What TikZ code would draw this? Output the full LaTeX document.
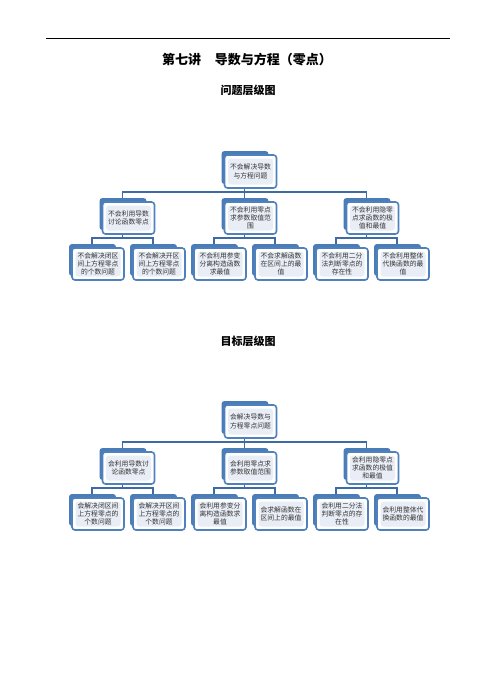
\documentclass[tikz,border=0pt]{standalone}
\usepackage{fontspec}
\setmainfont{Liberation Serif}
\newfontfamily\cjk{Noto Sans CJK SC}
\usetikzlibrary{backgrounds}
\definecolor{backc}{HTML}{4A7CB8}
\definecolor{edgec}{HTML}{4F81BD}
\definecolor{innerc}{HTML}{E9EEF6}
\definecolor{connc}{HTML}{3E6BA5}
\tikzset{
 cardfront/.style={draw=edgec, line width=1.6pt, fill=white, rounded corners=3pt,
   minimum width=52pt, inner sep=0pt, align=center,
   font=\cjk\fontsize{6.8pt}{8.3pt}\selectfont, text=black!80,
   path picture={\fill[innerc] ([shift={(3.5pt,-3.5pt)}]path picture bounding box.north west) rectangle ([shift={(-3.5pt,3.5pt)}]path picture bounding box.south east);}},
 cardback/.style={fill=backc, rounded corners=3pt},
 conn/.style={draw=connc, line width=1.8pt},
 heading/.style={font=\cjk\bfseries\fontsize{13pt}{15pt}\selectfont},
 subheading/.style={font=\cjk\bfseries\fontsize{11pt}{13pt}\selectfont},
}
\newcommand{\mycard}[5]{%
 \fill[cardback] (#2-23,#3-4) rectangle (#2+24,#3+#4-4);
 \node[cardfront, minimum height=#4pt] (#1) at (#2+6,#3+#4/2) {#5};
}
\newcommand{\mylink}[3]{%
 \coordinate (tmpA) at ([xshift=-6pt]#1.south);
 \coordinate (tmpB) at ([xshift=-6pt]#2.north);
 \draw[conn] (tmpA) -- (tmpA |- #3) -| (tmpB);
}
\begin{document}
\begin{tikzpicture}[x=1pt,y=-1pt]
\useasboundingbox (0,0) rectangle (496,673);
\coordinate (ruleL) at (46,38);
\coordinate (ruleR) at (450,38);
\draw[line width=0.9pt] (ruleL) -- (ruleR);
\node[heading] (title) at (247,60) {第七讲\hspace{14pt}导数与方程（零点）};
\node[subheading] (sub1) at (248,90) {问题层级图};
\node[subheading] (sub2) at (248,341) {目标层级图};

% ---------- diagram 1 ----------
\coordinate (a1) at (0,192);
\coordinate (a2) at (0,238);
\mycard{ar}{244.5}{155}{33}{不会解决导数\\与方程问题}
\mycard{aA}{122.5}{202}{32}{不会利用导数\\讨论函数零点}
\mycard{aB}{244.5}{202}{32}{不会利用零点\\求参数取值范\\围}
\mycard{aC}{366.5}{202}{32}{不会利用隐零\\点求函数的极\\值和最值}
\mycard{a1x}{92}{248}{32}{不会解决闭区\\间上方程零点\\的个数问题}
\mycard{a2x}{153}{248}{32}{不会解决开区\\间上方程零点\\的个数问题}
\mycard{a3x}{214}{248}{32}{不会利用参变\\分离构造函数\\求最值}
\mycard{a4x}{275}{248}{32}{不会求解函数\\在区间上的最\\值}
\mycard{a5x}{336}{248}{32}{不会利用二分\\法判断零点的\\存在性}
\mycard{a6x}{397}{248}{32}{不会利用整体\\代换函数的最\\值}

% ---------- diagram 2 ----------
\coordinate (c1) at (0,442);
\coordinate (c2) at (0,488);
\mycard{cr}{244.5}{405}{33}{会解决导数与\\方程零点问题}
\mycard{cA}{122.5}{452}{32}{会利用导数讨\\论函数零点}
\mycard{cB}{244.5}{452}{32}{会利用零点求\\参数取值范围}
\mycard{cC}{366.5}{452}{32}{会利用隐零点\\求函数的极值\\和最值}
\mycard{c1x}{92}{498}{32}{会解决闭区间\\上方程零点的\\个数问题}
\mycard{c2x}{153}{498}{32}{会解决开区间\\上方程零点的\\个数问题}
\mycard{c3x}{214}{498}{32}{会利用参变分\\离构造函数求\\最值}
\mycard{c4x}{275}{498}{32}{会求解函数在\\区间上的最值}
\mycard{c5x}{336}{498}{32}{会利用二分法\\判断零点的存\\在性}
\mycard{c6x}{397}{498}{32}{会利用整体代\\换函数的最值}

\begin{pgfonlayer}{background}
\fill[white] (0,0) rectangle (496,673);
\mylink{ar}{aA}{a1}
\mylink{ar}{aB}{a1}
\mylink{ar}{aC}{a1}
\mylink{aA}{a1x}{a2}
\mylink{aA}{a2x}{a2}
\mylink{aB}{a3x}{a2}
\mylink{aB}{a4x}{a2}
\mylink{aC}{a5x}{a2}
\mylink{aC}{a6x}{a2}
\mylink{cr}{cA}{c1}
\mylink{cr}{cB}{c1}
\mylink{cr}{cC}{c1}
\mylink{cA}{c1x}{c2}
\mylink{cA}{c2x}{c2}
\mylink{cB}{c3x}{c2}
\mylink{cB}{c4x}{c2}
\mylink{cC}{c5x}{c2}
\mylink{cC}{c6x}{c2}
\end{pgfonlayer}
\end{tikzpicture}
\end{document}
